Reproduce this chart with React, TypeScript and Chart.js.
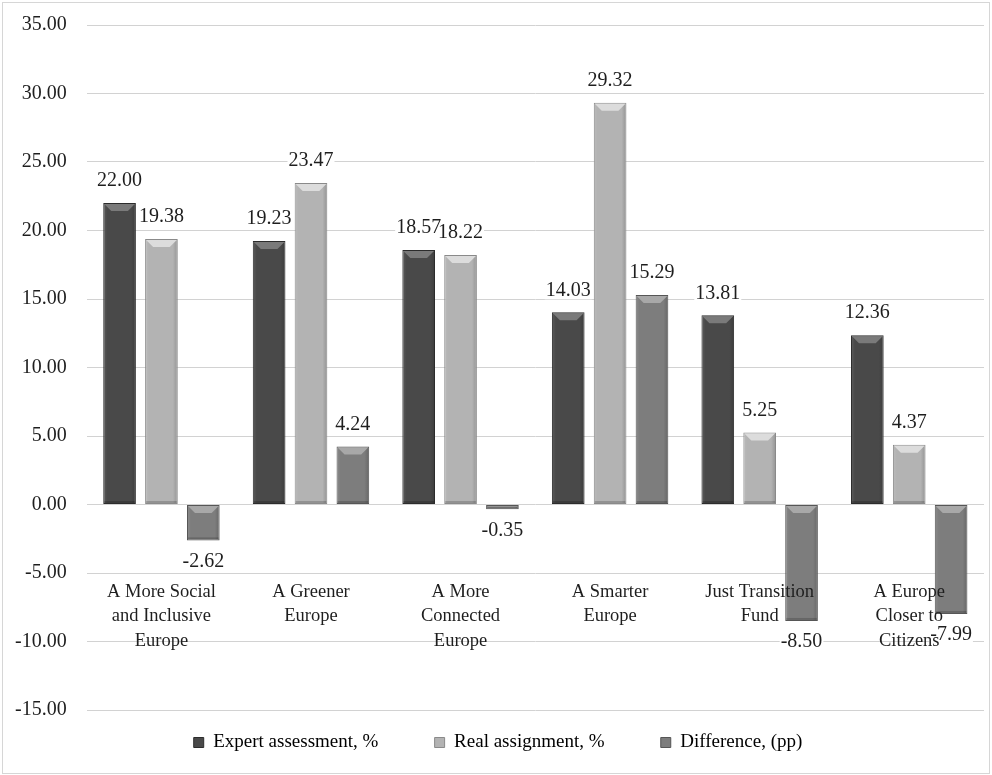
import React, { useEffect, useRef } from "react";
import { Chart, registerables } from "chart.js";

Chart.register(...registerables);

// Categories (cohesion policy objectives), one label line per entry
const categories: string[][] = [
  ["A More Social", "and Inclusive", "Europe"],
  ["A Greener", "Europe"],
  ["A More", "Connected", "Europe"],
  ["A Smarter", "Europe"],
  ["Just Transition", "Fund"],
  ["A Europe", "Closer to", "Citizens"],
];

const seriesNames = ["Expert assessment, %", "Real assignment, %", "Difference, (pp)"];

const expertAssessment = [22.0, 19.23, 18.57, 14.03, 13.81, 12.36];
const realAssignment = [19.38, 23.47, 18.22, 29.32, 5.25, 4.37];
const difference = [-2.62, 4.24, -0.35, 15.29, -8.5, -7.99];

// Value axis range and tick step
const Y_MIN = -15;
const Y_MAX = 35;
const Y_STEP = 5;

const FONT_FAMILY = "'Liberation Serif', 'Times New Roman', serif";
const TEXT_COLOR = "#1e1e1e";
const NUMBER_SIZE = 20;
const CATEGORY_SIZE = 18.5;
const LEGEND_SIZE = 19;

const fills = ["#494949", "#b3b3b3", "#7d7d7d"];
const borders = ["#2c2c2c", "#8a8a8a", "#565656"];
const bevels = ["#7a7a7a", "#dcdcdc", "#a8a8a8"];

// Bevelled bar faces plus value labels above/below each bar
const barDecor = {
  id: "barDecor",
  afterDatasetsDraw(chart: any) {
    const ctx: CanvasRenderingContext2D = chart.ctx;
    ctx.save();
    const labels: { text: string; x: number; y: number }[] = [];
    chart.data.datasets.forEach((ds: any, di: number) => {
      const meta = chart.getDatasetMeta(di);
      meta.data.forEach((el: any, i: number) => {
        const { x, y, base, width } = el.getProps(["x", "y", "base", "width"], true);
        const left = x - width / 2;
        const right = x + width / 2;
        const top = Math.min(y, base);
        const bottom = Math.max(y, base);
        const h = bottom - top;
        const b = Math.max(0, Math.min(7, (h - 2) / 2));

        // side shading
        const g = ctx.createLinearGradient(left, 0, right, 0);
        g.addColorStop(0, "rgba(255,255,255,0.10)");
        g.addColorStop(0.12, "rgba(255,255,255,0)");
        g.addColorStop(0.85, "rgba(0,0,0,0)");
        g.addColorStop(1, "rgba(0,0,0,0.18)");
        ctx.fillStyle = g;
        ctx.fillRect(left + 1, top + 1, width - 2, Math.max(0, h - 2));

        // top bevel
        if (b > 0.5) {
          ctx.fillStyle = bevels[di];
          ctx.beginPath();
          ctx.moveTo(left + 1, top + 1);
          ctx.lineTo(right - 1, top + 1);
          ctx.lineTo(right - 1 - b, top + 1 + b);
          ctx.lineTo(left + 1 + b, top + 1 + b);
          ctx.closePath();
          ctx.fill();
          // bottom edge shade
          ctx.fillStyle = "rgba(0,0,0,0.18)";
          ctx.fillRect(left + 1, bottom - 3, width - 2, 2);
        }

        const v = ds.data[i] as number;
        labels.push({ text: v.toFixed(2), x, y: v >= 0 ? y - 22 : y + 21 });
      });
    });

    // value labels on a white backing
    ctx.font = `${NUMBER_SIZE}px ${FONT_FAMILY}`;
    ctx.textAlign = "center";
    ctx.textBaseline = "middle";
    labels.forEach((l) => {
      const w = ctx.measureText(l.text).width;
      ctx.fillStyle = "#ffffff";
      ctx.fillRect(l.x - w / 2 - 1, l.y - 9, w + 2, 18);
    });
    ctx.fillStyle = TEXT_COLOR;
    labels.forEach((l) => ctx.fillText(l.text, l.x, l.y));
    ctx.restore();
  },
};

export default function App() {
  const canvasRef = useRef<HTMLCanvasElement | null>(null);

  useEffect(() => {
    if (!canvasRef.current) return;
    const series = [expertAssessment, realAssignment, difference];
    const chart = new Chart(canvasRef.current, {
      type: "bar",
      data: {
        labels: categories,
        datasets: series.map((values, i) => ({
          label: seriesNames[i],
          data: values,
          backgroundColor: fills[i],
          borderColor: borders[i],
          borderWidth: 1,
          borderSkipped: false,
          categoryPercentage: 0.84,
          barPercentage: 0.78,
        })),
      },
      options: {
        responsive: false,
        animation: false,
        layout: { padding: { left: 12, right: 8, top: 25, bottom: 13 } },
        scales: {
          x: {
            type: "category",
            // category labels sit just under the -5 gridline, drawn over the bars
            position: { y: -5 } as any,
            grid: { display: false, drawTicks: false },
            border: { display: false },
            ticks: {
              z: 1,
              autoSkip: false,
              maxRotation: 0,
              minRotation: 0,
              padding: 7,
              color: TEXT_COLOR,
              font: { family: FONT_FAMILY, size: CATEGORY_SIZE, lineHeight: 1.32 },
            },
          },
          y: {
            min: Y_MIN,
            max: Y_MAX,
            grid: {
              color: "#d2d2d2",
              lineWidth: 1,
              drawTicks: true,
              tickLength: 17,
              tickColor: "rgba(0,0,0,0)",
            },
            border: { display: false },
            ticks: {
              stepSize: Y_STEP,
              padding: 3,
              color: TEXT_COLOR,
              font: { family: FONT_FAMILY, size: NUMBER_SIZE },
              callback: (v: any) => Number(v).toFixed(2),
            },
          },
        },
        plugins: {
          legend: {
            position: "bottom",
            labels: {
              boxWidth: 10,
              boxHeight: 10,
              padding: 23,
              color: TEXT_COLOR,
              font: { family: FONT_FAMILY, size: LEGEND_SIZE },
              generateLabels: () =>
                seriesNames.map((name, i) => ({
                  text: i < seriesNames.length - 1 ? name + "       " : name,
                  fillStyle: fills[i],
                  strokeStyle: borders[i],
                  lineWidth: 1,
                  hidden: false,
                  datasetIndex: i,
                })),
            },
          },
          tooltip: { enabled: false },
        },
      },
      plugins: [barDecor],
    });
    return () => chart.destroy();
  }, []);

  return (
    <div
      style={{
        position: "fixed",
        left: 0,
        top: 0,
        width: 992,
        height: 775,
        background: "#ffffff",
      }}
    >
      <canvas ref={canvasRef} width={992} height={775} style={{ display: "block" }} />
      <div
        style={{
          position: "absolute",
          left: 2,
          top: 2,
          width: 988,
          height: 772,
          border: "1px solid #d6d6d6",
          boxSizing: "border-box",
          pointerEvents: "none",
        }}
      />
    </div>
  );
}
